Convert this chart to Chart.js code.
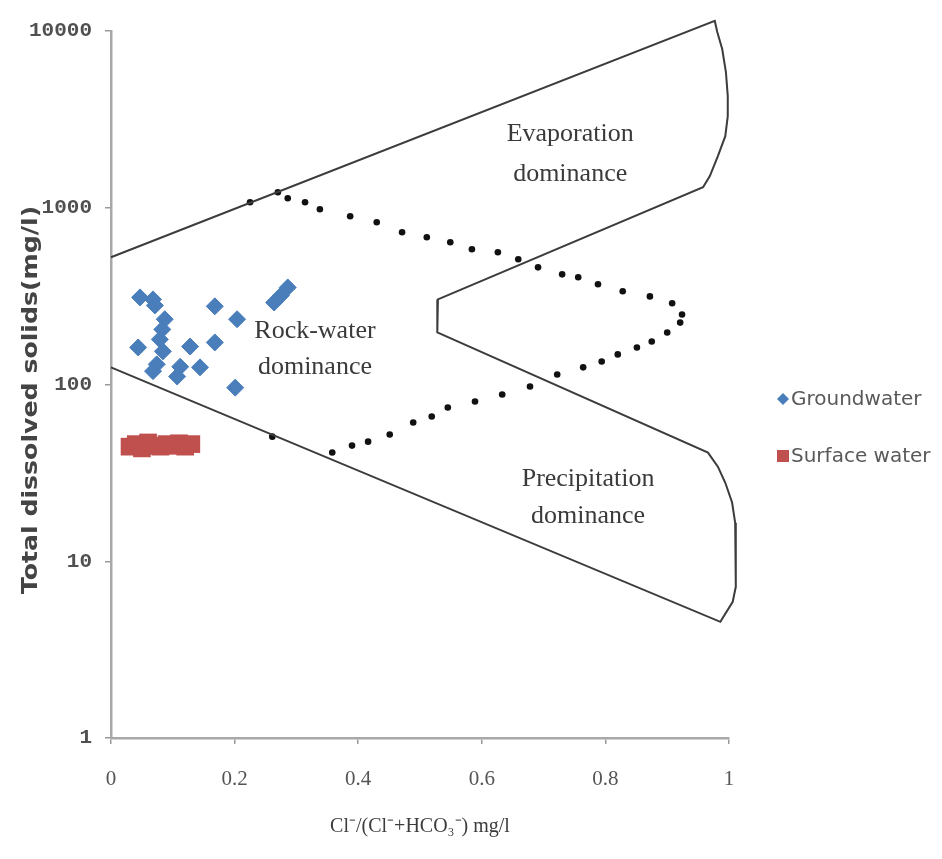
<!DOCTYPE html>
<html>
<head>
<meta charset="utf-8">
<script src="https://cdn.jsdelivr.net/npm/chart.js@4/dist/chart.umd.min.js"></script>
<style>
  html, body { margin: 0; padding: 0; background: #ffffff; }
  #c { display: block; }
</style>
</head>
<body>
<canvas id="c" width="942" height="859"></canvas>
<script>
// ---------- data ----------
const xTicks = [0, 0.2, 0.4, 0.6, 0.8, 1];
const xTickLabels = ['0', '0.2', '0.4', '0.6', '0.8', '1'];
const yTicks = [1, 10, 100, 1000, 10000];
const yTickLabels = ['1', '10', '100', '1000', '10000'];

const xTitle = 'Cl\u207B/(Cl\u207B+HCO\u2083\u207B) mg/l';
const yTitle = 'Total dissolved solids(mg/l)';

// Gibbs boundary outline (x ratio, TDS)
const boundaryX = [0, 0.977, 0.981, 0.989, 0.995, 0.998, 0.998, 0.994, 0.982, 0.969, 0.958,
                   0.529, 0.528, 0.966, 0.982, 0.994, 1.005, 1.010, 1.011, 1.011, 1.006, 0.986, 0];
const boundaryY = [525, 11400, 9860, 7910, 5860, 4280, 3300, 2540, 1960, 1510, 1307,
                   303, 197, 41.2, 34.3, 27.8, 21.5, 16.5, 11.2, 7.17, 5.90, 4.54, 125];

// Dotted dividing curve
const dotsX = [0.225, 0.270, 0.286, 0.314, 0.338, 0.387, 0.430, 0.471, 0.511, 0.549, 0.584, 0.626,
               0.659, 0.691, 0.730, 0.756, 0.788, 0.828, 0.872, 0.908, 0.924, 0.921, 0.900, 0.875,
               0.851, 0.820, 0.794, 0.764, 0.722, 0.678, 0.633, 0.589, 0.545, 0.519, 0.489, 0.451,
               0.416, 0.390, 0.358, 0.261];
const dotsY = [1075, 1224, 1132, 1075, 981, 895, 828, 727, 681, 638, 582, 560,
               511, 460, 420, 404, 369, 337, 315, 288, 249, 224, 197, 175,
               162, 148, 135, 125, 114, 97.5, 87.8, 80.1, 74.1, 65.9, 60.9, 52.1,
               47.5, 45.1, 41.2, 50.7];

// Groundwater samples
const groundX = [0.047, 0.068, 0.071, 0.168, 0.286, 0.275, 0.264, 0.204, 0.087, 0.083, 0.079,
                 0.044, 0.084, 0.128, 0.168, 0.074, 0.112, 0.144, 0.107, 0.068, 0.201];
const groundY = [311, 303, 280, 277, 354, 319, 291, 234, 234, 205, 180,
                 162, 154, 164, 173, 130, 126, 125, 111, 119, 96];

// Surface water samples
const surfaceX = [0.03, 0.04, 0.05, 0.06, 0.07, 0.08, 0.09, 0.10, 0.11, 0.12, 0.13];
const surfaceY = [44.5, 46, 43.5, 47, 45, 44.5, 46, 45, 46.5, 44.5, 46];

// Region labels
const regionText = ['Evaporation', 'dominance', 'Rock-water', 'dominance', 'Precipitation', 'dominance'];
const regionX = [0.743, 0.743, 0.330, 0.330, 0.772, 0.772];
const regionY = [2610, 1549, 200, 125, 29, 17.9];

const seriesNames = ['Groundwater', 'Surface water'];

// ---------- build datasets ----------
const pts = (xs, ys) => xs.map((x, i) => ({ x: x, y: ys[i] }));

const BLUE = '#4a7ebb';
const RED = '#c0504d';

const regionLabelPlugin = {
  id: 'regionLabels',
  afterDatasetsDraw(chart) {
    const { ctx, scales } = chart;
    ctx.save();
    ctx.font = '26px "Liberation Serif", "Times New Roman", serif';
    ctx.fillStyle = '#3a3a3a';
    ctx.textAlign = 'center';
    ctx.textBaseline = 'middle';
    regionText.forEach((t, i) => {
      ctx.fillText(t, scales.x.getPixelForValue(regionX[i]), scales.y.getPixelForValue(regionY[i]));
    });
    ctx.restore();
  }
};

const extrasPlugin = {
  id: 'extras',
  afterDraw(chart) {
    const { ctx, chartArea } = chart;
    // y axis title (rotated)
    ctx.save();
    ctx.translate(32, 400);
    ctx.rotate(-Math.PI / 2);
    ctx.scale(1.2, 1);
    ctx.font = 'bold 21px "DejaVu Sans", sans-serif';
    ctx.fillStyle = '#444444';
    ctx.textAlign = 'center';
    ctx.textBaseline = 'middle';
    ctx.fillText(yTitle, 0, 0);
    ctx.restore();

    // legend
    ctx.save();
    const lx = chartArea.right + 54;
    const rows = [399, 456];
    ctx.font = '20px "DejaVu Sans", sans-serif';
    ctx.textBaseline = 'middle';
    ctx.textAlign = 'left';
    ctx.fillStyle = BLUE;
    ctx.beginPath();
    const d = 6;
    ctx.moveTo(lx, rows[0] - d);
    ctx.lineTo(lx + d, rows[0]);
    ctx.lineTo(lx, rows[0] + d);
    ctx.lineTo(lx - d, rows[0]);
    ctx.closePath();
    ctx.fill();
    ctx.fillStyle = RED;
    ctx.fillRect(lx - 6, rows[1] - 6, 12, 12);
    ctx.fillStyle = '#595959';
    ctx.fillText(seriesNames[0], lx + 8, rows[0] + 1);
    ctx.fillText(seriesNames[1], lx + 8, rows[1] + 1);
    ctx.restore();
  }
};

const chart = new Chart(document.getElementById('c').getContext('2d'), {
  type: 'scatter',
  data: {
    datasets: [
      {
        label: 'boundary',
        data: pts(boundaryX, boundaryY),
        showLine: true,
        borderColor: '#3c3c3c',
        borderWidth: 2,
        pointRadius: 0,
        fill: false,
        tension: 0,
        clip: false
      },
      {
        label: 'divide',
        data: pts(dotsX, dotsY),
        showLine: false,
        pointStyle: 'circle',
        pointRadius: 3.3,
        backgroundColor: '#111111',
        borderColor: '#111111',
        borderWidth: 0
      },
      {
        label: seriesNames[0],
        data: pts(groundX, groundY),
        pointStyle: 'rectRot',
        pointRadius: 8.5,
        backgroundColor: BLUE,
        borderColor: BLUE,
        borderWidth: 1
      },
      {
        label: seriesNames[1],
        data: pts(surfaceX, surfaceY),
        pointStyle: 'rect',
        pointRadius: 12.5,
        backgroundColor: RED,
        borderColor: RED,
        borderWidth: 0
      }
    ]
  },
  options: {
    responsive: false,
    animation: false,
    events: [],
    layout: { padding: { left: 0, right: 213, top: 31, bottom: 0 } },
    scales: {
      x: {
        type: 'linear',
        min: 0,
        max: 1,
        afterFit(s) { s.height = 121; },
        afterBuildTicks(s) { s.ticks = xTicks.map(v => ({ value: v })); },
        ticks: {
          padding: 23,
          color: '#555555',
          font: { family: '"Liberation Serif", "Times New Roman", serif', size: 21 },
          callback: (v, i) => xTickLabels[i],
          maxRotation: 0,
          autoSkip: false
        },
        grid: { display: true, drawOnChartArea: false, drawTicks: true, tickLength: 6, color: '#9a9a9a', lineWidth: 1.5 },
        border: { display: true, color: '#a8a8a8', width: 2.5 },
        title: {
          display: true,
          text: xTitle,
          color: '#3c3c3c',
          font: { family: '"Liberation Serif", "Times New Roman", serif', size: 20 },
          padding: { top: 20, bottom: 20 }
        }
      },
      y: {
        type: 'logarithmic',
        min: 1,
        max: 10000,
        afterFit(s) { s.width = 111; },
        afterBuildTicks(s) { s.ticks = yTicks.map(v => ({ value: v })); },
        ticks: {
          padding: 13,
          color: '#505050',
          font: { family: '"Liberation Mono", "DejaVu Sans Mono", monospace', size: 21, weight: 'bold' },
          callback: (v, i) => yTickLabels[i],
          autoSkip: false
        },
        grid: { display: true, drawOnChartArea: false, drawTicks: true, tickLength: 6, color: '#9a9a9a', lineWidth: 1.5 },
        border: { display: true, color: '#a8a8a8', width: 2.5 }
      }
    },
    plugins: {
      legend: { display: false },
      tooltip: { enabled: false },
      title: { display: false }
    }
  },
  plugins: [regionLabelPlugin, extrasPlugin]
});
</script>
</body>
</html>
